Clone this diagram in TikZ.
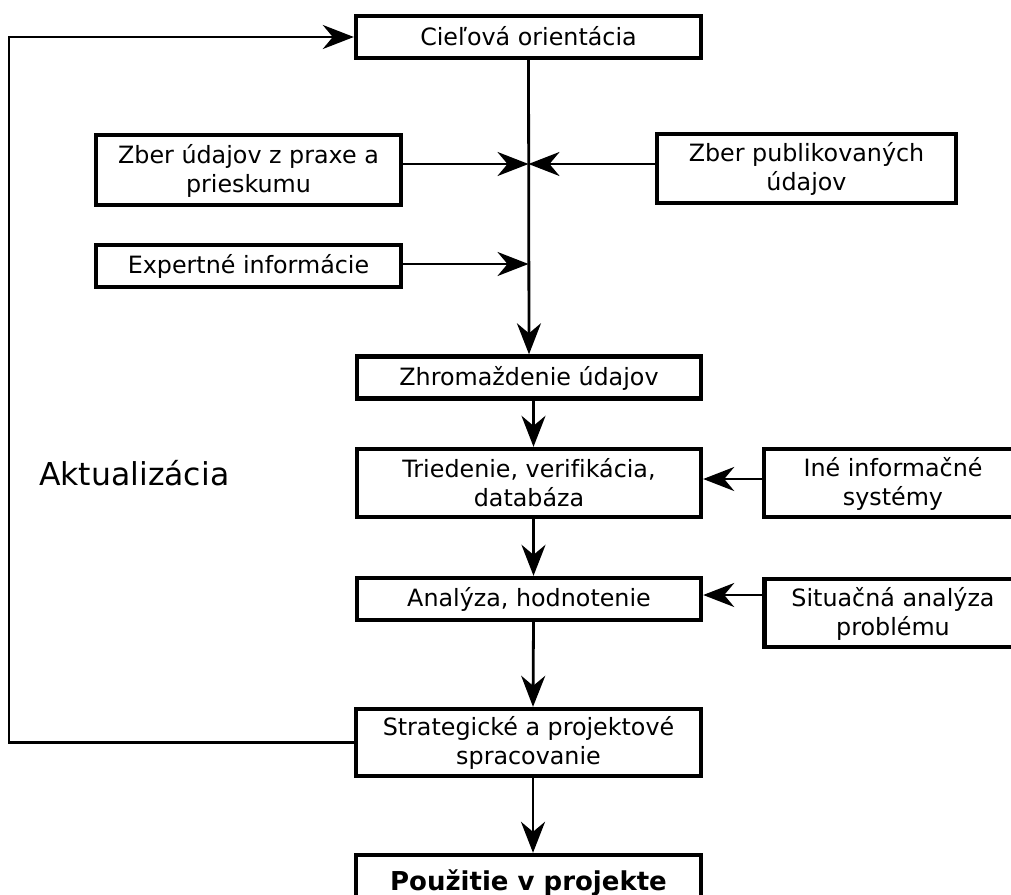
\documentclass[tikz,border=0pt]{standalone}
\usepackage{fontspec}
\setmainfont{DejaVu Sans}[Ligatures=NoCommon]
\usetikzlibrary{arrows.meta}
% line strut: fixed height and depth for every text line in a box
\newcommand{\ls}{\rule[-3pt]{0pt}{23pt}}
\begin{document}
\begin{tikzpicture}[x=1pt,y=-1pt,
  box/.style={draw, line width=4.4pt, rectangle, inner sep=0pt, align=center,
    font=\fontsize{23.8}{29}\selectfont},
  flow/.style={line width=2.8pt, -{Stealth[length=31pt,width=24pt,inset=10pt]}},
  caption/.style={anchor=base west, inner sep=0pt, font=\fontsize{31.5}{37}\selectfont}]
\useasboundingbox (0,0) rectangle (1011,894);

% boxes
\node[box, minimum width=345pt, minimum height=42pt] (ciel) at (528.5,37) {\ls Cieľová orientácia};
\node[box, minimum width=305pt, minimum height=70pt] (zber1) at (248.5,170) {\ls Zber údajov z praxe a\\\ls prieskumu};
\node[box, minimum width=299pt, minimum height=69pt] (zber2) at (806.5,168.5) {\ls Zber publikovaných\\\ls údajov};
\node[box, minimum width=305pt, minimum height=42pt] (exp) at (248.5,266) {\ls Expertné informácie};
\node[box, minimum width=344pt, minimum height=42pt] (zhrom) at (529,377.5) {\ls Zhromaždenie údajov};
\node[box, minimum width=344pt, minimum height=68pt] (tried) at (529,483) {\ls Triedenie, verifikácia,\\\ls databáza};
\node[box, minimum width=258pt, minimum height=68pt] (ine) at (893,483) {\ls Iné informačné\\\ls systémy};
\node[box, minimum width=344pt, minimum height=42pt] (an) at (529,599) {\ls Analýza, hodnotenie};
\node[box, minimum width=257pt, minimum height=68pt] (sit) at (893,613) {\ls Situačná analýza\\\ls problému};
\node[box, minimum width=345pt, minimum height=67pt] (strat) at (528.5,742.5) {\ls Strategické a projektové\\\ls spracovanie};
\node[box, minimum width=345pt, minimum height=55pt,
      font=\bfseries\fontsize{26}{31}\selectfont] (pouz) at (528.5,882.5) {\ls Použitie v projekte};

\node[caption] (akt) at (39,485) {Aktualizácia};

% junctions on the main line and the return path
\coordinate (j1) at (528.5,164);
\coordinate (j2) at (528.5,264);
\coordinate (fb) at (9,400);

% main line and its inputs
\draw[flow] (ciel.south) -- (zhrom.north);
\draw[flow] (zber1.east |- j1) -- (j1);
\draw[flow] (zber2.west |- j1) -- (j1);
\draw[flow] (exp.east |- j2) -- (j2);

% lower chain
\draw[flow] ([xshift=4.5pt]zhrom.south) -- ([xshift=4.5pt]tried.north);
\draw[flow] ([xshift=4.5pt]tried.south) -- ([xshift=4.5pt]an.north);
\draw[flow] ([xshift=4.5pt]an.south) -- ([xshift=4.5pt]strat.north);
\draw[flow] ([xshift=4.5pt]strat.south) -- ([xshift=4.5pt]pouz.north);

% side inputs
\draw[flow] ([yshift=4pt]ine.west) -- ([yshift=4pt]ine.west -| tried.east);
\draw[flow] ([yshift=4pt]an.east -| sit.west) -- ([yshift=4pt]an.east);

% update loop
\draw[flow] (strat.west) -| (fb) |- (ciel.west);
\end{tikzpicture}
\end{document}
